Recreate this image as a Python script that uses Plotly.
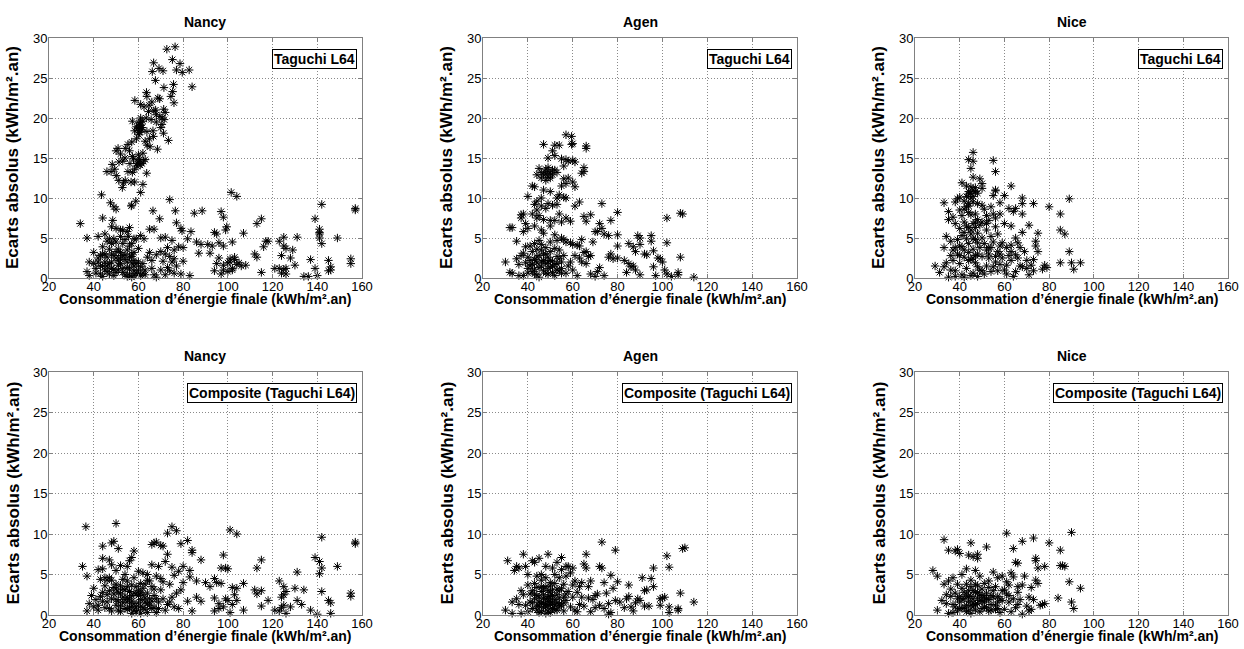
import plotly.graph_objects as go

# ---------------- data ----------------
x_ticks = [20, 40, 60, 80, 100, 120, 140, 160]
y_ticks = [0, 5, 10, 15, 20, 25, 30]
cities = ["Nancy", "Agen", "Nice", "Nancy", "Agen", "Nice"]
methods = ["Taguchi L64", "Taguchi L64", "Taguchi L64",
           "Composite (Taguchi L64)", "Composite (Taguchi L64)", "Composite (Taguchi L64)"]

nancy_taguchi = [
    (72.7,28.6),(76.4,28.9),(66.8,26.9),(75.2,27.3),(78.6,26.8),(66.2,25.8),(69.2,26.2),(71.0,25.9),(77.0,26.0),
    (79.6,25.7),(82.7,26.0),(84.0,23.9),(67.6,24.7),(71.4,23.8),(75.7,24.2),(75.3,23.3),(74.5,22.7),(63.6,23.2),
    (63.8,22.7),(68.7,22.5),(69.5,22.4),(58.4,22.2),(61.0,21.7),(62.5,21.4),(64.8,21.6),(71.3,21.1),(72.0,20.7),
    (75.9,21.9),(66.9,20.9),(68.0,20.4),(69.6,20.2),(70.6,20.0),(71.5,19.8),(65.7,19.8),(63.5,20.0),(62.0,19.6),
    (60.3,19.4),(57.3,19.6),(60.8,19.1),(59.8,18.7),(61.5,18.5),(59.1,18.9),(58.3,18.4),(60.2,17.9),(63.8,18.3),
    (66.5,18.4),(70.0,18.8),(71.2,18.1),(66.7,17.7),(64.9,17.4),(63.0,17.1),(63.9,16.6),(59.1,17.4),(57.0,17.0),
    (55.3,16.7),(54.1,16.2),(50.9,16.2),(50.0,15.9),(52.0,15.5),(56.0,15.9),(57.3,15.2),(60.0,15.4),(62.0,15.6),
    (65.2,16.4),(68.5,16.1),(73.4,17.2),(57.8,14.9),(59.8,14.5),(60.8,14.1),(62.3,14.6),(59.3,14.0),(58.3,13.6),
    (63.0,14.8),(51.3,14.5),(48.3,14.2),(49.4,13.6),(45.9,13.3),(47.8,13.3),(55.3,13.3),(57.3,13.2),(63.7,13.1),
    (50.1,12.8),(51.2,12.2),(53.3,11.9),(54.1,12.2),(52.8,11.3),(56.7,12.0),(58.3,12.0),(62.0,11.7),(61.0,10.7),
    (58.8,9.6),(56.8,9.0),(54.0,15.0),(53.0,14.6),(56.2,14.3),(61.7,18.8),(60.5,18.2),(61.0,20.0),(66.0,22.0),
    (67.7,21.0),(64.5,20.8),(70.5,19.2),(68.0,19.5),(60.5,19.0),(61.3,18.8),(60.0,18.4),(61.0,19.5),(59.5,14.3),
    (60.5,14.8),(61.5,14.3),
    (43.5,10.4),(101.5,10.7),(104,10.2),(142,9.2),(157,8.7),(157,8.5),(74,9.8),(47.5,9.4),(49,8.9),(50,8.6),
    (57,9.1),(66.5,8.4),(76.5,8.4),(85,8.1),(88.5,8.4),(97,8.3),(98,7.6),(139,7.4),(115,7.4),(69.5,7.4),(44,7.5),
    (48.5,7.2),(34,6.8),(113,6.8),(77,6.9),(79,6.2),(79.5,5.9),(83.5,5.8),(99.5,6.4),(99,6.0),(141,6.1),(141,5.7),
    (107,5.6),(94,5.7),(95,5.5),(67,6.1),(65,6.1),(56,6.3),(52,6.0),(50,6.2),(48,6.4),(45,5.5),(37,5.0),(42,5.2),
    (55.5,5.2),(59,4.9),(62.5,4.9),(70,5.0),(72,5.1),(75,4.7),(82,4.9),(86,4.5),(88,4.2),(91,4.2),(93,4.0),(96,4.4),
    (98,4.0),(102,4.5),(117,4.6),(123,4.6),(125,5.1),(125,4.0),(126,3.7),(131,5.1),(141,5.0),(142,4.3),(149,5.0),
    (40,3.2),(44,3.9),(47,3.6),(51,3.6),(53,4.3),(58,3.2),(60,3.7),(65,3.2),(68,2.9),(70,3.3),(72,3.0),(74,2.7),
    (76,3.5),(78,3.9),(80,3.8),(87,3.1),(92,3.1),(95,1.8),(96,2.5),(100,1.9),(101,2.4),(103,2.3),(104,1.7),
    (105,1.9),(108,1.6),(112,3.0),(113,2.6),(116,3.9),(115,0.7),(118,4.6),(121,1.2),(123,1.2),(124,2.8),(124,0.6),
    (125,1.1),(126,1.2),(128,2.5),(129,3.5),(130,1.6),(134,0.2),(136,0.2),(137,2.3),(140,0.3),(145,2.2),(145,0.9),
    (146,1.4),(146,1.0),(155,2.4),(155,1.8),(38,2.0),(40,1.8),(41,1.2),(42,2.0),(37,0.8),(38,0.3),(43,0.5),(45,1.0),
    (46,1.5),(47,0.5),(48,2.0),(49,1.1),(50,2.5),(51,1.0),(52,1.8),(53,0.7),(54,2.3),(55,1.3),(56,0.5),(57,2.7),
    (58,1.5),(59,0.6),(60,1.0),(61,0.3),(62,1.8),(63,1.0),(64,2.6),(66,1.2),(67,0.4),(68,0.1),(70,1.0),(71,2.1),
    (72,0.4),(73,1.3),(75,2.0),(76,0.6),(77,1.5),(79,0.5),(80,2.1),(83,0.3),(94,0.9),(97,0.5),(98,1.6),(102,1.2),
    (106,1.5),(48,3.0),(49,4.9),(50,4.5),(52,3.2),(54,2.9),(55,3.5),(56,2.6),(57,1.9),(58,2.2),(46,2.6),(44,1.5),
    (45,3.0),(53,2.8),(51,2.2),(49,0.3),(58,0.9),(60,0.5),(62,0.6),(55,0.2),(57,0.1),(44,0.2),(52,5.2),(53,6.0),
    (55,5.8),(57,4.3),(47,4.9),(58,4.9),(61,5.3),(66,2.2),(74,0.9),(73,3.8),(76,2.4),(101,2.0),(98,1.0),(100,0.8),
    (102,1.0),(103,2.6),(126,0.5),(141,5.5),(139,1.2),
    (42,2.5),(43,1.5),(44,3.0),(45,2.0),(46,0.8),(47,1.8),(48,1.2),(49,2.8),(50,0.7),(51,1.6),(52,2.5),(53,1.2),
    (54,0.4),(55,2.0),(56,1.1),(57,3.0),(58,0.3),(59,1.8),(60,2.0),(61,1.4),(63,0.4),(48,4.3),(50,3.3),(46,4.6),
    (54,4.8),(56,4.0),(43,2.8),(41,0.6),
]

agen_taguchi = [
    (57,17.9),(59.5,17.7),(59.5,16.7),(60,16.8),(66,16.5),(66,16.2),(47,16.7),(52,16.6),(54,16.6),(51,15.9),
    (52,15.3),(49,15.0),(55,14.9),(57,14.8),(58,14.6),(60,14.7),(61,14.5),(56,14.0),(65,13.8),(65,13.3),(64,13.1),
    (45,13.7),(46,13.2),(48,13.6),(49,13.3),(50,13.1),(51,12.9),(52,13.5),(53,13.2),(47,12.9),(44,12.9),(46,12.5),
    (49,12.6),(48,12.2),(56,12.4),(58,12.5),(60,12.0),(61,11.4),(55,11.5),(57,11.8),(42,11.5),(43,11.4),(40,10.2),
    (47,11.0),(50,10.8),(54,10.4),(53,10.0),(56,10.1),(57,10.0),(61,9.0),(63,9.5),(46,10.0),(44,9.6),(43,9.2),
    (46,9.0),(49,9.3),(51,9.1),(53,9.2),(48,8.7),(44,8.5),(42,8.0),(38,8.0),(37,7.9),(37,7.5),(44,7.5),(45,7.8),
    (47,7.3),(50,7.2),(52,7.2),(54,8.0),(55,7.0),(57,7.5),(59,7.1),(65,7.7),(66,7.1),(68,7.9),(73,9.3),(80,8.2),
    (102,7.5),(108,8.1),(109,8.0),(77,7.2),(72,6.8),(73,6.2),(74,5.5),(71,5.8),(76,5.3),(80,5.4),(89,5.3),(90,5.0),
    (95,5.3),(95,4.6),(102,4.4),(85,4.3),(87,3.9),(88,3.3),(90,4.2),(92,3.0),(93,2.9),(96,3.4),(80,4.0),(77,3.0),
    (76,2.6),(78,2.4),(80,2.5),(83,2.2),(85,1.8),(86,1.4),(87,1.5),(88,1.0),(84,0.7),(90,0.4),(96,1.4),(98,2.5),
    (99,2.4),(100,2.0),(101,1.0),(102,0.5),(104,0.2),(107,0.7),(108,2.6),(107,0.4),(114,0.1),(97,0.3),(33,6.3),
    (32,6.3),(35,4.6),(38,5.8),(39,6.8),(40,6.2),(43,6.5),(46,6.0),(47,5.6),(50,6.5),(52,5.4),(53,4.7),(55,5.0),
    (56,4.8),(57,4.5),(59,4.4),(60,4.2),(62,4.1),(63,4.0),(64,4.8),(65,3.2),(66,3.3),(67,2.7),(68,2.8),(69,4.5),
    (70,5.8),(63,2.5),(61,2.8),(30,2.0),(32,0.7),(33,0.6),(35,2.4),(36,1.7),(37,2.8),(38,3.1),(38,0.3),(39,1.9),
    (40,2.6),(41,1.5),(42,3.3),(42,0.8),(43,2.3),(44,1.9),(44,0.4),(45,2.8),(46,1.5),(46,3.5),(47,2.2),(47,0.9),
    (48,3.0),(48,1.8),(49,2.6),(49,0.5),(50,1.4),(50,3.3),(51,2.1),(51,0.7),(52,1.7),(53,2.7),(54,0.9),(55,2.0),
    (55,1.2),(56,2.8),(57,0.6),(58,1.5),(59,2.0),(60,1.0),(62,0.3),(64,2.0),(66,1.8),(68,0.5),(70,0.2),(71,0.8),
    (72,1.3),(74,0.3),(41,4.0),(43,4.3),(45,4.7),(39,3.9),(45,0.1),(49,2.0),(53,1.0),(54,3.5),(36,0.3),(40,0.6),
    (43,1.1),
    (40,1.2),(41,2.2),(42,1.7),(43,0.5),(44,2.6),(45,1.3),(46,2.1),(47,3.0),(48,0.6),(49,1.2),(50,2.2),(51,1.4),
    (52,0.3),(53,1.8),(54,2.4),(55,0.6),(44,3.6),(46,4.2),(48,3.8),(50,4.5),(52,3.7),(49,13.8),(50,12.5),(51,13.5),
    (48,13.0),
]

nice_taguchi = [
    (46,15.7),(46,14.6),(44,14.8),(45,13.7),(55,14.7),(56,13.3),(46,12.6),(49,12.4),(50,11.8),(41,11.9),(43,11.5),
    (45,11.4),(46,11.0),(47,10.8),(44,10.5),(48,10.6),(46,10.2),(45,10.0),(43,10.2),(40,10.1),(39,9.9),(42,9.6),
    (50,11.2),(55,10.3),(56,11.0),(56,10.9),(58,9.4),(60,10.3),(63,11.5),(68,10.0),(68,9.3),(73,9.3),(80,8.9),
    (89,9.9),(33,9.4),(35,8.3),(35,7.3),(37,7.6),(38,9.5),(40,8.5),(41,7.8),(43,8.9),(44,8.2),(47,8.0),(48,9.3),
    (50,9.1),(51,8.6),(52,7.8),(53,7.2),(54,8.9),(55,8.0),(56,7.5),(58,8.0),(62,8.7),(64,8.3),(65,8.7),(68,8.0),
    (85,8.0),(85,6.0),(87,5.5),(34,5.2),(36,4.6),(33,3.8),(37,3.5),(39,4.8),(40,6.2),(42,5.7),(44,6.3),(45,5.5),
    (46,6.8),(47,4.8),(48,5.6),(49,6.6),(50,5.0),(51,4.3),(52,6.0),(53,3.8),(54,5.2),(55,4.5),(56,6.4),(57,5.5),
    (59,4.4),(60,6.8),(61,3.8),(63,4.1),(63,6.5),(65,5.0),(66,4.4),(67,3.8),(68,5.7),(71,6.6),(74,4.6),(75,5.6),
    (74,4.0),(75,3.3),(89,3.3),(90,1.9),(94,1.9),(91,1.1),(85,1.9),(78,1.6),(79,1.3),(77,1.1),(73,2.3),(72,1.6),
    (71,0.4),(68,1.4),(67,1.5),(65,0.8),(64,0.2),(63,2.2),(62,2.8),(61,1.6),(60,1.0),(59,2.5),(58,1.7),(57,0.9),
    (56,2.0),(55,1.4),(54,0.8),(53,2.5),(52,1.5),(51,0.5),(50,2.7),(49,1.0),(48,3.0),(47,1.9),(46,0.6),(45,2.3),
    (44,3.2),(43,1.2),(42,2.6),(41,0.4),(40,1.8),(39,3.0),(38,0.9),(37,2.2),(36,1.0),(35,0.1),(34,1.9),(33,1.4),
    (31,0.7),(29,1.5),(38,0.2),(42,0.1),(45,0.3),(48,0.2),(44,4.3),(46,3.6),(41,3.9),(49,3.8),(53,3.0),(57,3.3),
    (47,2.8),(43,4.9),(40,4.0),(66,2.5),(70,2.2),(69,3.3),(63,3.3),(65,2.9),(58,4.0),(61,0.5),(73,0.9),(70,1.2),
    (42,7.0),(48,7.3),(38,6.8),(44,9.3),
    (44,10.8),(45,10.6),(47,11.3),(46,9.5),(44,9.0),(42,8.6),(45,7.9),(47,7.0),(43,6.5),(45,6.0),(41,5.3),(47,6.3),
    (50,7.0),(52,6.8),(46,4.9),(48,4.4),(44,2.2),(46,2.5),(48,1.4),(50,0.9),(42,3.5),(40,2.8),(38,3.8),(36,2.8),
    (52,3.5),(54,3.8),(56,2.7),(58,3.0),
]

nancy_composite = [
    (36.5,10.9),(50,11.3),(75,10.9),(77,10.4),(73,10.1),(101,10.5),(104,10.0),(142,9.6),(157,9.0),(157,8.8),
    (49,9.1),(48,8.9),(51,8.2),(44,8.5),(58,7.9),(57,7.1),(56,6.7),(66,8.7),(67,8.9),(68,9.0),(70,8.6),(71,8.5),
    (79,8.8),(82,9.2),(84,8.0),(84,7.7),(88,6.8),(98,7.4),(115,6.8),(113,5.8),(97,5.8),(99,5.8),(100,5.7),
    (139,7.1),(141,6.6),(142,5.8),(141,5.1),(149,6.0),(131,5.3),(35,6.0),(37,4.8),(44,7.0),(44,5.7),(42,5.6),
    (47,6.8),(48,6.2),(50,5.5),(52,6.1),(54,5.0),(55,6.0),(60,5.4),(62,5.2),(64,5.0),(66,6.2),(68,4.8),(69,6.0),
    (70,4.5),(72,6.6),(73,7.5),(75,5.9),(76,4.9),(78,5.4),(80,6.0),(83,5.5),(83,4.7),(86,4.2),(90,4.0),(92,3.5),
    (94,4.5),(95,4.0),(97,3.9),(102,3.4),(104,3.3),(107,3.9),(112,3.1),(113,2.6),(115,3.0),(118,1.8),(123,4.2),
    (125,3.5),(125,2.5),(124,2.2),(126,2.9),(130,3.3),(134,3.1),(137,0.6),(140,0.1),(142,2.9),(145,1.8),(146,1.5),
    (146,0.2),(155,2.7),(155,2.3),(133,1.3),(131,1.8),(128,1.0),(125,1.2),(124,0.9),(123,0.5),(121,0.6),(126,0.2),
    (115,1.1),(107,0.6),(104,1.8),(103,2.5),(102,1.3),(101,0.3),(99,2.0),(98,1.0),(96,1.4),(94,0.5),(94,2.1),
    (96,0.8),(100,1.8),(88,1.7),(86,2.2),(84,0.5),(82,1.7),(80,4.0),(79,3.1),(77,2.7),(76,1.0),(75,2.2),(74,3.8),
    (73,1.3),(72,0.6),(71,2.0),(70,3.1),(69,1.6),(68,0.3),(67,2.4),(66,3.5),(65,1.2),(64,2.7),(63,0.7),(62,3.3),
    (61,1.9),(60,0.5),(59,2.6),(58,1.4),(57,3.7),(56,0.9),(55,2.2),(54,3.1),(53,1.5),(52,0.4),(51,2.8),(50,1.2),
    (49,3.4),(48,2.0),(47,0.8),(46,2.5),(45,4.6),(44,1.7),(43,2.3),(42,0.6),(41,1.9),(40,3.3),(39,2.4),(38,1.4),
    (37,0.5),(40,1.0),(45,0.9),(48,4.3),(50,3.8),(53,4.4),(55,3.5),(57,0.2),(59,1.0),(60,2.4),(61,3.9),(62,0.9),
    (63,2.1),(64,1.4),(57,1.7),(56,2.9),(54,1.9),(52,2.6),(50,1.9),(47,3.0),(52,3.6),(58,4.6),(60,3.0),(58,0.6),
    (61,0.2),(55,0.7),(51,0.6),(66,0.8),(74,1.6),(78,0.8),(47,4.6),(46,4.3),(64,4.3),(71,4.1),
    (42,1.2),(44,2.8),(46,1.6),(48,0.5),(49,2.6),(50,3.2),(51,1.7),(52,1.1),(53,2.2),(54,0.8),(55,1.6),(56,2.0),
    (57,1.1),(58,2.7),(59,0.4),(60,1.5),(61,1.1),(62,2.5),(63,1.6),(64,0.3),(65,2.0),(66,1.7),(67,0.9),(68,2.0),
    (69,0.8),(53,3.2),(55,4.2),(57,2.4),(59,3.5),(61,2.8),(63,3.8),(65,4.2),(67,3.2),(45,3.6),(43,4.4),
]

agen_composite = [
    (73,9.0),(79,8.0),(109,8.2),(110,8.3),(102,7.3),(103,5.9),(96,5.8),(91,4.6),(95,4.5),(96,3.5),(93,3.1),
    (92,3.0),(99,2.0),(100,2.1),(101,2.2),(99,1.2),(103,1.0),(103,0.3),(107,0.8),(107,0.6),(108,2.7),(114,1.6),
    (94,1.1),(92,1.1),(90,1.8),(89,2.0),(88,1.5),(87,0.5),(86,1.0),(85,2.3),(85,3.7),(84,2.0),(83,0.9),(81,1.6),
    (80,4.1),(79,1.8),(78,3.3),(77,0.3),(77,4.9),(76,1.4),(76,0.1),(75,2.7),(74,4.0),(73,5.8),(72,6.0),(71,2.6),
    (70,0.9),(69,1.9),(68,4.2),(67,3.5),(66,5.8),(66,7.5),(65,6.3),(64,4.0),(63,1.3),(62,2.8),(61,0.6),(60,3.7),
    (59,5.2),(58,6.0),(57,4.8),(56,2.2),(55,7.1),(54,1.0),(53,6.5),(52,3.9),(51,5.8),(50,1.3),(49,7.5),(48,6.0),
    (47,3.3),(46,5.0),(45,7.0),(44,4.8),(43,6.5),(42,6.7),(41,2.6),(40,3.7),(39,6.0),(38,7.5),(37,3.0),(36,5.8),
    (35,6.0),(34,5.5),(33,1.6),(31,6.7),(30,0.6),(33,0.2),(35,2.0),(36,1.3),(37,0.2),(38,2.5),(39,1.2),(40,0.4),
    (41,1.6),(42,3.0),(42,0.8),(43,2.0),(44,1.1),(44,3.4),(45,2.2),(45,0.3),(46,1.5),(46,2.9),(47,0.9),(47,2.0),
    (48,1.3),(48,3.5),(49,0.5),(49,2.3),(50,1.7),(50,2.8),(51,0.8),(51,3.1),(52,1.9),(53,0.6),(53,2.5),(54,1.4),
    (55,3.3),(56,0.5),(57,1.8),(58,2.9),(59,1.0),(60,2.2),(61,4.2),(62,0.4),(63,3.5),(64,2.2),(65,1.1),(67,2.1),
    (68,0.4),(70,2.4),(72,1.2),(74,0.8),(46,4.3),(48,4.6),(50,4.0),(52,5.0),(54,4.6),(56,3.8),(43,3.9),(40,5.0),
    (45,1.6),(47,1.4),(49,1.7),(51,1.5),(48,0.2),(55,5.6),(57,6.0),(60,5.8),
    (42,1.5),(43,2.6),(44,0.6),(45,1.1),(46,0.4),(47,2.5),(48,2.0),(48,1.0),(49,1.2),(49,3.0),(50,0.3),(50,2.2),
    (51,2.4),(52,1.2),(52,0.6),(53,1.5),(53,3.2),(54,2.1),(55,1.2),(56,1.5),(57,2.6),(46,3.5),(44,2.4),(50,3.6),
    (54,3.0),
]

nice_composite = [
    (61,10.1),(90,10.2),(68,9.1),(73,9.5),(80,8.9),(33,9.3),(45,8.9),(35,8.0),(38,7.9),(39,8.1),(40,7.6),(44,7.4),
    (46,7.2),(48,7.5),(48,7.0),(52,8.4),(64,8.2),(65,6.5),(66,6.4),(74,7.0),(74,6.7),(75,5.8),(78,6.0),(85,8.0),
    (85,6.1),(86,6.1),(87,6.0),(89,4.1),(94,3.3),(84,2.1),(90,1.6),(91,0.8),(28,5.5),(30,4.8),(33,3.8),(35,4.2),
    (37,4.6),(39,3.8),(41,5.0),(43,5.7),(45,4.3),(47,5.5),(49,4.8),(51,3.9),(53,4.2),(55,5.3),(57,4.6),(59,4.8),
    (62,3.7),(63,5.2),(64,4.7),(66,3.5),(68,3.7),(69,4.8),(72,3.4),(74,4.3),(75,3.9),(77,1.3),(78,1.4),(76,1.2),
    (73,1.9),(71,2.2),(70,1.1),(68,0.1),(67,1.9),(66,2.8),(65,0.9),(64,2.0),(63,0.4),(62,1.6),(61,2.6),(60,0.7),
    (59,1.8),(58,0.3),(57,2.3),(56,1.2),(55,3.0),(54,0.6),(53,1.9),(52,2.7),(51,1.0),(50,3.2),(49,0.4),(48,2.1),
    (47,1.3),(46,3.0),(45,0.2),(44,1.7),(43,2.5),(42,0.9),(41,3.3),(40,1.6),(39,0.5),(38,2.7),(37,1.3),(36,2.3),
    (35,0.2),(34,1.4),(32,1.8),(30,0.6),(34,2.5),(36,3.2),(38,1.0),(40,2.3),(42,2.0),(44,0.6),(46,1.0),(48,3.6),
    (50,1.7),(52,0.9),(54,2.4),(56,3.5),(44,3.0),(45,2.3),(46,1.5),(47,2.8),(43,1.2),(41,0.8),(49,2.5),(51,2.2),
    (53,3.4),(58,2.0),(60,3.1),(62,2.4),(66,1.3),(71,0.5),(61,4.1),(57,0.8),(72,0.7),
    (40,0.8),(41,2.0),(42,2.8),(43,0.4),(44,2.3),(45,1.2),(45,3.5),(46,2.0),(47,0.6),(48,1.4),(48,2.8),(49,1.8),
    (50,0.8),(50,2.4),(51,1.6),(52,2.0),(53,0.5),(54,1.3),(55,2.2),(56,0.7),(47,3.8),(43,3.8),(39,2.0),(37,0.3),
    (57,1.6),(59,3.0),
]

x_title = "Consommation d’énergie finale (kWh/m².an)"
y_title = "Ecarts absolus (kWh/m².an)"

# ---------------- layout geometry (page pixels) ----------------
W, H = 1244, 649
col_px = [(49, 362), (483, 797), (915, 1228)]
row_px = [(38, 278), (372, 615)]
FONT = "Liberation Sans, Arial, sans-serif"
GRID = "#8a8a8a"
AXIS = "#808080"


def fx(px):
    return px / W


def fy(py):
    return 1 - py / H


datasets = [nancy_taguchi, agen_taguchi, nice_taguchi, nancy_composite, agen_composite, nice_composite]

fig = go.Figure()
annotations = []
for i, pts in enumerate(datasets):
    r, c = divmod(i, 3)
    k = "" if i == 0 else str(i + 1)
    xs = [p[0] for p in pts]
    ys = [p[1] for p in pts]
    fig.add_trace(go.Scatter(
        x=xs, y=ys, mode="markers", xaxis="x" + k, yaxis="y" + k,
        marker=dict(symbol="asterisk-open", size=7, color="black",
                    line=dict(width=1, color="black")),
        showlegend=False, hoverinfo="skip", cliponaxis=False))
    x0, x1 = col_px[c]
    y0, y1 = row_px[r]
    common = dict(showline=True, linecolor=AXIS, linewidth=1, mirror="ticks",
                  showgrid=True, gridcolor=GRID, griddash="1px,2px", gridwidth=1,
                  zeroline=False, ticks="inside", ticklen=4, tickcolor=AXIS,
                  automargin=False,
                  tickfont=dict(family=FONT, size=13, color="black"))
    fig.layout["xaxis" + k] = dict(domain=[fx(x0), fx(x1)], range=[20, 160], tickvals=x_ticks,
                                   anchor="y" + k, ticklabelstandoff=-4, **common)
    fig.layout["yaxis" + k] = dict(domain=[fy(y1), fy(y0)], range=[0, 30], tickvals=y_ticks,
                                   anchor="x" + k, ticklabelstandoff=-2, **common)
    cx = fx((x0 + x1) / 2)
    # subplot title
    annotations.append(dict(text="<b>%s</b>" % cities[i], x=cx, y=fy(y0 - 16), xref="paper", yref="paper",
                            showarrow=False, xanchor="center", yanchor="middle",
                            font=dict(family=FONT, size=14, color="black")))
    # x title
    annotations.append(dict(text="<b>%s</b>" % x_title, x=cx, y=fy(y1 + 21), xref="paper", yref="paper",
                            showarrow=False, xanchor="center", yanchor="middle",
                            font=dict(family=FONT, size=14, color="black")))
    # y title
    annotations.append(dict(text="<b>%s</b>" % y_title, x=fx(x0 - 36), y=fy((y0 + y1) / 2),
                            xref="paper", yref="paper", textangle=-90,
                            showarrow=False, xanchor="center", yanchor="middle",
                            font=dict(family=FONT, size=17, color="black")))
    # legend-like box
    annotations.append(dict(text="<b>%s</b>" % methods[i], x=fx(x1 - 5), y=fy(y0 + 11),
                            xref="paper", yref="paper", showarrow=False, xanchor="right", yanchor="top",
                            bordercolor="black", borderwidth=1, borderpad=1, bgcolor="white",
                            font=dict(family=FONT, size=14, color="black")))

fig.update_layout(template="none", width=W, height=H, autosize=False,
                  margin=dict(l=0, r=0, t=0, b=0, autoexpand=False),
                  paper_bgcolor="white", plot_bgcolor="white",
                  annotations=annotations)
# remove the default page margin so the figure fills the window exactly
fig.write_html("out.html",
               config={"displayModeBar": False},
               post_script="document.body.style.margin='0';document.body.style.overflow='hidden';")
